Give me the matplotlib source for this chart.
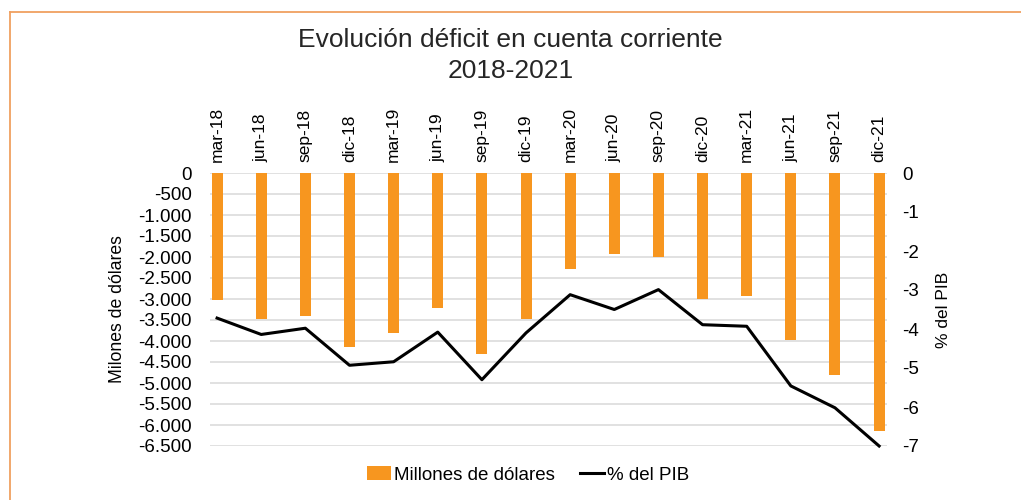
import numpy as np
from matplotlib import pyplot as plt
from matplotlib.lines import Line2D
from matplotlib.ticker import FuncFormatter

plt.rcParams['font.family'] = ['Liberation Sans', 'DejaVu Sans']

quarters = ['mar-18', 'jun-18', 'sep-18', 'dic-18', 'mar-19', 'jun-19', 'sep-19', 'dic-19',
            'mar-20', 'jun-20', 'sep-20', 'dic-20', 'mar-21', 'jun-21', 'sep-21', 'dic-21']
millones = [-3020, -3470, -3400, -4150, -3820, -3220, -4310, -3470,
            -2290, -1940, -2000, -2990, -2940, -3980, -4800, -6140]
pct_pib = [-3.72, -4.14, -3.98, -4.93, -4.84, -4.08, -5.30, -4.10,
           -3.12, -3.50, -2.99, -3.89, -3.93, -5.46, -6.02, -7.00]

orange = '#F7961F'
x = np.arange(len(quarters))

fig = plt.figure(figsize=(10.21, 5), dpi=100)
ax = fig.add_axes([0.2057, 0.108, 0.6631, 0.546])
ax2 = ax.twinx()

ax.bar(x, millones, width=0.25, color=orange, label='Millones de dólares', zorder=2)
ax2.plot(x, pct_pib, color='black', lw=2.2, label='% del PIB', clip_on=False, zorder=3)

ax.set_xlim(-0.16, 15.18)
ax.set_ylim(-6500, 0)
ax2.set_ylim(-7, 0)
ax.set_yticks(np.arange(-6500, 1, 500))
ax2.set_yticks(np.arange(-7, 1, 1))
ax.yaxis.set_major_formatter(FuncFormatter(lambda v, p: f"{int(v):,}".replace(",", ".")))
ax2.yaxis.set_major_formatter(FuncFormatter(lambda v, p: f"{int(v)}"))

ax.set_xticks(x)
ax.set_xticklabels(quarters, rotation=90)
ax.xaxis.tick_top()
ax.tick_params(axis='x', length=0, pad=8, labelsize=12.5)
ax.tick_params(axis='y', length=0, pad=13, labelsize=13.5)
ax2.tick_params(axis='y', length=0, pad=11, labelsize=13.5)

ax.grid(axis='y', color='#dcdcdc', lw=1.2)
ax.set_axisbelow(True)
for a in (ax, ax2):
    for s in a.spines.values():
        s.set_visible(False)

ax.set_ylabel('Milones de dólares', fontsize=12.7)
ax.yaxis.set_label_coords(-0.124, 0.5)
ax2.set_ylabel('% del PIB', fontsize=12.5, rotation=90)
ax2.yaxis.set_label_coords(1.072, 0.5)

fig.text(0.5, 1 - 40 / 500, 'Evolución déficit en cuenta corriente', ha='center', va='center',
         fontsize=19, color='#262626')
fig.text(0.5, 1 - 71 / 500, '2018-2021', ha='center', va='center', fontsize=19, color='#262626')

h1, l1 = ax.get_legend_handles_labels()
h2, l2 = ax2.get_legend_handles_labels()
fig.legend(h1 + h2, l1 + l2, loc='center', bbox_to_anchor=(528 / 1021, 1 - 475 / 500), ncol=2,
           frameon=False, fontsize=13.5, handlelength=1.3, handletextpad=0.15, columnspacing=1.3)

# orange frame (left and top edges only visible)
fig.add_artist(Line2D([9.5 / 1021, 9.5 / 1021], [1 - 11.5 / 500, -0.1], color='#F0A060', lw=1.3))
fig.add_artist(Line2D([9.5 / 1021, 1.1], [1 - 11.5 / 500, 1 - 11.5 / 500], color='#F0A060', lw=1.3))

fig.savefig('out.png', dpi=100)
